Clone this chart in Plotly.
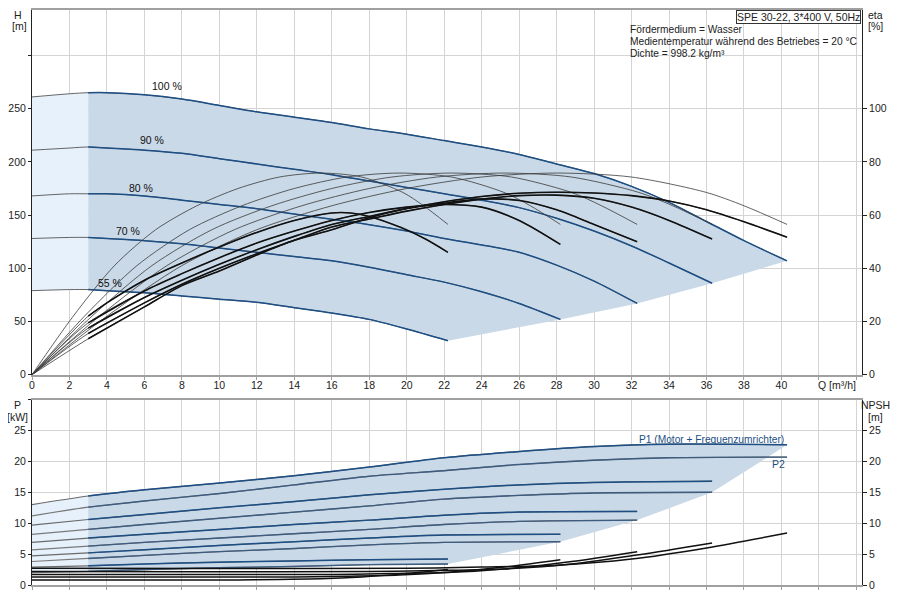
import plotly.graph_objects as go

# --- Q-H curves (H in m) at 100 / 90 / 80 / 70 / 55 % speed
h100_q = [0, 2, 3, 4, 6, 8, 10, 12, 14, 16, 18, 20, 22, 24, 26, 28, 30, 32, 34, 36, 38, 40.3]
h100 = [261, 264, 265, 265, 263, 259, 253, 247, 242, 237, 231, 226, 220, 214, 207, 198, 189, 177, 162, 144, 126, 107]
h90_q = [0, 2, 3, 4, 6, 8, 10, 12, 14, 16, 18, 20, 22, 24, 26, 28, 30, 32, 34, 36.3]
h90 = [211, 213, 214, 213, 211, 208, 203, 198, 193, 188, 182, 176, 170, 164, 157, 147, 135, 121, 105, 86]
h80_q = [0, 2, 3, 4, 6, 8, 10, 12, 14, 16, 18, 20, 22, 24, 26, 28, 30, 32.3]
h80 = [168, 170, 170, 170, 168, 164, 160, 156, 151, 146, 141, 135, 128, 122, 115, 103, 88, 67]
h70_q = [0, 2, 3, 4, 6, 8, 10, 12, 14, 16, 18, 20, 22, 24, 26, 28.2]
h70 = [128, 129, 129, 128, 126, 123, 119, 115, 111, 107, 101, 94, 87, 78, 67, 52]
h55_q = [0, 2, 3, 4, 6, 8, 10, 12, 14, 16, 18, 20, 22.2]
h55 = [79, 80, 80, 79, 77, 74, 71, 68, 63, 58, 52, 43, 32]
speed_labels = ["100 %", "90 %", "80 %", "70 %", "55 %"]

# --- pump efficiency (thin), same eta values at each speed's flow points
eta_pump = [0, 22, 41, 54.5, 63.5, 70, 74.3, 75.8, 74.3, 68.5, 63.5, 56.5]
e100_q = [0, 4, 8, 12, 16, 20, 24, 28, 32, 36, 38, 40.3]
e90_q = [0, 3.6, 7.2, 10.8, 14.4, 18, 21.6, 25.2, 28.8, 32.4, 34.2, 36.3]
e80_q = [0, 3.2, 6.4, 9.6, 12.8, 16, 19.2, 22.4, 25.6, 28.8, 30.4, 32.3]
e70_q = [0, 2.8, 5.6, 8.4, 11.2, 14, 16.8, 19.6, 22.4, 25.2, 26.6, 28.2]
e55_q = [0, 2.2, 4.4, 6.6, 8.8, 11, 13.2, 15.4, 17.6, 19.8, 20.9, 22.2]

# --- total efficiency (thick)
t100_q = [0, 3, 6, 8, 10, 12, 14, 16, 18, 20, 22, 24, 26, 28, 30, 32, 34, 36, 38, 40.3]
t100 = [0, 13.5, 25.5, 33.5, 39, 45, 50.5, 54.5, 59, 62.5, 65, 67, 68.2, 68.6, 68.3, 67.3, 65.3, 62, 57.5, 51.7]
t90_q = [0, 3, 6, 8, 10, 12, 14, 16, 18, 20, 22, 24, 26, 28, 30, 32, 34, 36.3]
t90 = [0, 15.5, 27, 34, 40, 45.5, 50.5, 55.5, 58.5, 61.5, 64, 66, 67.3, 67.5, 66.3, 63, 58, 51]
t80_q = [0, 3, 6, 8, 10, 12, 14, 16, 18, 20, 22, 24, 26, 28, 30, 32.3]
t80 = [0, 17.5, 29, 35.5, 41.5, 47, 52, 56.5, 59.5, 62.5, 64.5, 66, 65.5, 62, 56.5, 50]
t70_q = [0, 3, 6, 8, 10, 12, 14, 16, 18, 20, 22, 24, 26, 28.2]
t70 = [0, 19.5, 31.5, 38, 44, 49.5, 54, 58, 61, 63, 64, 63, 58, 49]
t55_q = [0, 3, 4, 6, 8, 10, 12, 14, 16, 17, 18, 19.7, 21, 22.2]
t55 = [0, 22, 27, 35.5, 42, 48, 53.5, 58, 60.8, 60.8, 59.5, 55.3, 51, 46]

# --- power P1 / P2 (kW)
p100_q = [0, 3, 6, 10, 14, 18, 22, 26, 30, 34, 40.3]
p1_100 = [13.0, 14.4, 15.4, 16.5, 17.7, 19.1, 20.6, 21.6, 22.4, 22.8, 22.7]
p2_100 = [11.2, 12.6, 13.6, 14.8, 16.2, 17.6, 18.5, 19.5, 20.2, 20.6, 20.7]
p90_q = [0, 3, 6, 10, 14, 18, 22, 26, 30, 36.3]
p1_90 = [9.7, 10.6, 11.4, 12.5, 13.5, 14.6, 15.5, 16.2, 16.6, 16.8]
p2_90 = [8.2, 9.0, 9.8, 10.8, 11.8, 12.8, 13.9, 14.5, 14.9, 15.0]
p80_q = [0, 3, 6, 10, 14, 18, 22, 26, 32.3]
p1_80 = [6.9, 7.6, 8.2, 9.0, 9.8, 10.5, 11.3, 11.8, 11.9]
p2_80 = [5.7, 6.3, 6.9, 7.6, 8.3, 9.0, 9.8, 10.3, 10.5]
p70_q = [0, 3, 6, 10, 14, 18, 22, 28.2]
p1_70 = [4.7, 5.2, 5.7, 6.4, 7.0, 7.6, 8.1, 8.2]
p2_70 = [3.8, 4.3, 4.8, 5.4, 5.9, 6.5, 6.9, 7.0]
p55_q = [0, 3, 6, 10, 14, 18, 22.2]
p1_55 = [2.9, 3.1, 3.4, 3.7, 3.9, 4.1, 4.2]
p2_55 = [2.0, 2.2, 2.5, 2.8, 3.0, 3.3, 3.4]

# --- NPSH (m)
n100_q = [0, 10, 20, 24, 28, 32, 36, 40.3]
n100 = [2.7, 2.65, 2.7, 2.9, 3.2, 4.2, 6.0, 8.4]
n90_q = [0, 9, 18, 21.6, 25.2, 28.8, 32.4, 36.3]
n90 = [2.2, 2.15, 2.2, 2.35, 2.6, 3.4, 4.9, 6.8]
n80_q = [0, 8, 16, 19.2, 22.4, 25.6, 28.8, 32.3]
n80 = [1.7, 1.7, 1.7, 1.85, 2.05, 2.7, 3.8, 5.4]
n70_q = [0, 7, 14, 16.8, 19.6, 22.4, 25.2, 28.2]
n70 = [1.3, 1.3, 1.3, 1.4, 1.6, 2.1, 2.9, 4.1]
n55_q = [0, 5.5, 11, 13.2, 15.4, 17.6, 19.8, 22.2]
n55 = [0.8, 0.8, 0.8, 0.9, 1.0, 1.3, 1.8, 2.5]

x_ticks = list(range(0, 45, 2))
Q_MIN = 3  # start of the recommended range

BLUE = "#1d4f85"
GREY = "#555555"
FILL_DARK = "#c9d9e7"
FILL_LIGHT = "#e7f1fb"
FONT = "Arial, Liberation Sans, sans-serif"
FS = 10.5

fig = go.Figure()


def line(q, v, xa, ya, color, width):
    fig.add_trace(go.Scatter(x=q, y=v, xaxis=xa, yaxis=ya, mode="lines",
                             line=dict(color=color, width=width, shape="spline", smoothing=0.8),
                             hoverinfo="skip", showlegend=False))


def split_curve(q, v, xa, ya, color, width, thin_color=GREY, thin_width=0.9):
    line(q, v, xa, ya, thin_color, thin_width)
    qq = [a for a in q if a >= Q_MIN]
    vv = [b for a, b in zip(q, v) if a >= Q_MIN]
    line(qq, vv, xa, ya, color, width)


def area(q, v, xa, ya, color):
    fig.add_trace(go.Scatter(x=q, y=v, xaxis=xa, yaxis=ya, mode="lines", fill="toself",
                             fillcolor=color, line=dict(width=0), hoverinfo="skip",
                             showlegend=False))


# ---------- top: Q-H + efficiency
ends_q = [h90_q[-1], h80_q[-1], h70_q[-1]]
ends_h = [h90[-1], h80[-1], h70[-1]]
i3 = h100_q.index(Q_MIN)
j3 = h55_q.index(Q_MIN)
area(h100_q[:i3 + 1] + h55_q[j3::-1], h100[:i3 + 1] + h55[j3::-1], "x", "y", FILL_LIGHT)
area(h100_q[i3:] + ends_q + h55_q[:j3 - 1:-1], h100[i3:] + ends_h + h55[:j3 - 1:-1],
     "x", "y", FILL_DARK)

for q, h in [(h100_q, h100), (h90_q, h90), (h80_q, h80), (h70_q, h70), (h55_q, h55)]:
    split_curve(q, h, "x", "y", BLUE, 1.5)

for q in [e100_q, e90_q, e80_q, e70_q, e55_q]:
    line(q, eta_pump, "x", "y2", "#3a3a3a", 0.8)
for q, t in [(t100_q, t100), (t90_q, t90), (t80_q, t80), (t70_q, t70), (t55_q, t55)]:
    split_curve(q, t, "x", "y2", "#111111", 1.6, thin_color="#3a3a3a", thin_width=0.8)

# ---------- bottom: power + NPSH
k3 = p100_q.index(Q_MIN)
m3 = p55_q.index(Q_MIN)
pe_q = [p90_q[-1], p80_q[-1], p70_q[-1]]
pe_v = [p2_90[-1], p2_80[-1], p2_70[-1]]
area(p100_q[:k3 + 1] + p55_q[m3::-1], p1_100[:k3 + 1] + p2_55[m3::-1], "x2", "y3", FILL_LIGHT)
area(p100_q[k3:] + pe_q + p55_q[:m3 - 1:-1], p1_100[k3:] + pe_v + p2_55[:m3 - 1:-1],
     "x2", "y3", FILL_DARK)

for q, a, b in [(p100_q, p1_100, p2_100), (p90_q, p1_90, p2_90), (p80_q, p1_80, p2_80),
                (p70_q, p1_70, p2_70), (p55_q, p1_55, p2_55)]:
    split_curve(q, b, "x2", "y3", "#3e5c80", 1.4, thin_color="#7a7a7a", thin_width=1.2)
    split_curve(q, a, "x2", "y3", BLUE, 1.5, thin_color="#6a6a6a", thin_width=1.2)

for q, n in [(n100_q, n100), (n90_q, n90), (n80_q, n80), (n70_q, n70), (n55_q, n55)]:
    line(q, n, "x2", "y4", "#111111", 1.5)

# ---------- axes
# the page adds an 8px body margin, so the figure is 8px smaller and starts at (8, 8)
W, HGT = 892, 592
ML, MR, MT, MB = 21, 38, 0, 15
plot_h = HGT - MT - MB          # 577
top_bottom = 374 - 8            # x axis of the upper panel, in figure px
low_top = 399 - 8               # top of the lower panel, in figure px

grid = "#d4d4d4"
xcommon = dict(range=[0, 44.3], tickvals=x_ticks, showgrid=True, gridcolor=grid,
               showline=True, linecolor="#a0a0a0", linewidth=2, mirror=True,
               ticks="outside", ticklen=3, tickcolor="#a0a0a0", zeroline=False)
ycommon = dict(showgrid=True, gridcolor=grid, showline=True, linecolor="#222222",
               linewidth=1, ticks="outside", ticklen=3, tickcolor="#222222", zeroline=False)

h_ticks = list(range(0, 351, 50))
p_ticks = list(range(0, 31, 5))
h_top = top_bottom / 1.068      # metres at the top edge of the upper panel

fig.update_layout(
    width=W, height=HGT,
    margin=dict(l=ML, r=MR, t=MT, b=MB),
    paper_bgcolor="white", plot_bgcolor="white",
    font=dict(family=FONT, size=FS, color="#222222"),
    hovermode=False,
    xaxis=dict(xcommon, anchor="y", ticklabelstandoff=-3,
               ticktext=[str(v) if v <= 40 else "" for v in x_ticks]),
    xaxis2=dict(xcommon, anchor="y3", showticklabels=False),
    yaxis=dict(ycommon, domain=[(plot_h - top_bottom) / plot_h, 1], range=[0, h_top],
               tickvals=h_ticks, ticktext=[str(v) if v <= 250 else "" for v in h_ticks]),
    yaxis2=dict(overlaying="y", side="right", anchor="x", range=[0, h_top * 0.4],
                tickvals=list(range(0, 101, 20)), showgrid=False, showline=True,
                linecolor="#222222", ticks="outside", ticklen=4, tickcolor="#222222",
                zeroline=False),
    yaxis3=dict(ycommon, domain=[0, (plot_h - low_top) / plot_h], anchor="x2", range=[0, 30],
                tickvals=p_ticks, ticktext=[str(v) if v <= 25 else "" for v in p_ticks]),
    yaxis4=dict(overlaying="y3", side="right", anchor="x2", range=[0, 30],
                tickvals=list(range(0, 26, 5)), showgrid=False, showline=True,
                linecolor="#222222", ticks="outside", ticklen=4, tickcolor="#222222",
                zeroline=False),
)


def px(x):
    return (x - 8 - ML) / (W - ML - MR)


def py(y):
    return (plot_h - (y - 8)) / plot_h


def note(text, x, y, xanchor="center", color="#222222", size=FS, **kw):
    fig.add_annotation(text=text, x=px(x), y=py(y), xref="paper", yref="paper",
                       xanchor=xanchor, yanchor="middle", showarrow=False,
                       font=dict(family=FONT, size=size, color=color), **kw)


note("H", 15, 13)
note("[m]", 16, 24)
note("eta", 876, 13)
note("[%]", 876, 24)
note("P", 14, 404)
note("[kW]", 14, 416)
note("NPSH", 876, 404)
note("[m]", 876, 416)
note("Q [m³/h]", 858, 384, xanchor="right")
note("Fördermedium = Wasser", 627, 28, xanchor="left", size=10.2)
note("Medientemperatur während des Betriebes = 20 °C", 627, 40, xanchor="left", size=10.2)
note("Dichte = 998.2 kg/m³", 627, 52, xanchor="left", size=10.2)
note("P1 (Motor + Frequenzumrichter)", 711, 439, color=BLUE, size=10.2)
note("P2", 778, 464, color=BLUE)
fig.add_annotation(text="SPE 30-22, 3*400 V, 50Hz", x=px(861), y=1, xref="paper",
                   yref="paper", xanchor="right", yanchor="top", showarrow=False,
                   bordercolor="#333333", borderwidth=1, borderpad=0, bgcolor="white",
                   font=dict(family=FONT, size=FS, color="#222222"))

label_q = [7.2, 6.4, 5.8, 5.1, 4.15]
label_h = [271, 221, 175, 135, 86]
for t, q, h in zip(speed_labels, label_q, label_h):
    fig.add_annotation(text=t, x=q, y=h, xref="x", yref="y", showarrow=False,
                       font=dict(family=FONT, size=FS, color="#111111"))

fig.write_html("out.html")
